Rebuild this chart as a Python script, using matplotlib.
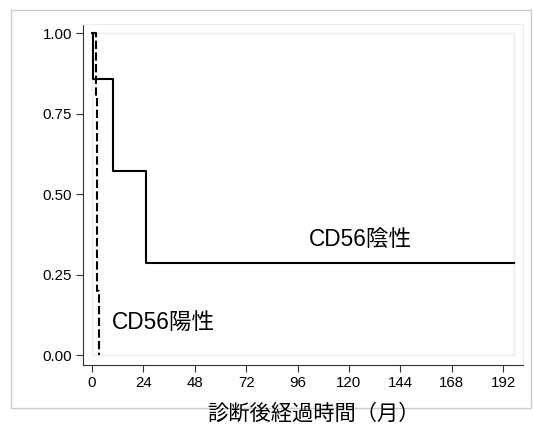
import matplotlib.pyplot as plt
from matplotlib.patches import Rectangle

# Kaplan-Meier steps
neg_t = [0, 0.3, 10, 25, 197]
neg_s = [1.0, 0.857, 0.571, 0.286, 0.286]
pos_t = [0, 1.7, 2.4, 3.3]
pos_s = [1.0, 0.8, 0.2, 0.0]

xticks = [0, 24, 48, 72, 96, 120, 144, 168, 192]
yticks = [0.0, 0.25, 0.5, 0.75, 1.0]
ytick_labels = ["0.00", "0.25", "0.50", "0.75", "1.00"]

fonts = ["Liberation Sans", "Noto Sans CJK JP"]
plt.rcParams["font.family"] = fonts

fig = plt.figure(figsize=(5.33, 4.26), dpi=100)
fig.patches.append(Rectangle((11 / 533, 1 - 408 / 426), 520 / 533, 398 / 426,
                             transform=fig.transFigure, fill=False,
                             edgecolor="#c8cccc", linewidth=1))

ax = fig.add_axes([83 / 533, 1 - 365 / 426, 440 / 533, 341 / 426])
ax.set_xlim(-4.2, 201.3)
ax.set_ylim(-0.031, 1.028)

ax.add_patch(Rectangle((0, 0), 197, 1, fill=False, edgecolor="#e6eef0", linewidth=1))

ax.step(neg_t, neg_s, where="post", color="black", linewidth=1.5)
ax.step(pos_t, pos_s, where="post", color="black", linewidth=1.5,
        linestyle=(0, (4, 1.6)))

ax.text(125.2, 0.36, "CD56陰性", fontsize=16.3, ha="center", va="center")
ax.text(33.6, 0.10, "CD56陽性", fontsize=16.3, ha="center", va="center")

ax.set_xticks(xticks)
ax.set_yticks(yticks)
ax.set_yticklabels(ytick_labels)
ax.tick_params(labelsize=10.8, length=5, width=0.8, color="#333333", pad=3)

for side in ["top", "right"]:
    ax.spines[side].set_color("#e6eef0")
for side in ["left", "bottom"]:
    ax.spines[side].set_color("#333333")
    ax.spines[side].set_linewidth(0.8)

fig.text(313 / 533, 1 - 413 / 426, "診断後経過時間（月）", fontsize=15.3,
         ha="center", va="center")

fig.savefig("out.png", dpi=100)
